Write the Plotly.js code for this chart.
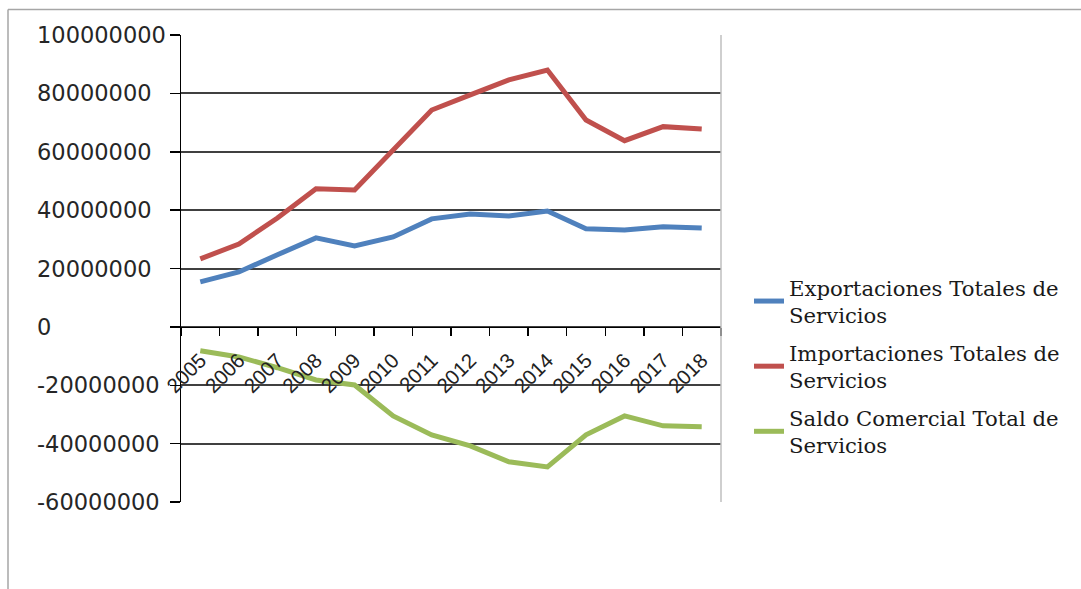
<!DOCTYPE html>
<html>
<head>
<meta charset="utf-8">
<script src="https://cdn.plot.ly/plotly-3.0.1.min.js"></script>
<style>
html,body{margin:0;padding:0;background:#fff;}
#chart{width:1081px;height:589px;}
</style>
</head>
<body>
<div id="chart"></div>
<script>
const years = ["2005","2006","2007","2008","2009","2010","2011","2012","2013","2014","2015","2016","2017","2018"];
const exportaciones = [15400000,18800000,24700000,30500000,27700000,30800000,37000000,38700000,38000000,39700000,33600000,33200000,34300000,33900000];
const importaciones = [23300000,28400000,37300000,47300000,46900000,60600000,74300000,79500000,84600000,88000000,70900000,63800000,68600000,67800000];
const saldo = [-8200000,-10300000,-14000000,-18200000,-19900000,-30500000,-37000000,-40800000,-46200000,-48000000,-37000000,-30500000,-33900000,-34200000];
const yTicks = [100000000,80000000,60000000,40000000,20000000,0,-20000000,-40000000,-60000000];
const names = ["Exportaciones Totales de<br>Servicios","Importaciones Totales de<br>Servicios","Saldo Comercial Total de<br>Servicios"];
const colors = ["#4F81BD","#C0504D","#9BBB59"];

const W = 1081, H = 589;
const L = 181, R = 721, T = 35, B = 502;
const pw = R - L, ph = B - T;
const px = v => (v - L) / pw;
const py = v => (B - v) / ph;

const traces = [exportaciones, importaciones, saldo].map((d, i) => ({
  type: "scatter", mode: "lines", x: years, y: d, name: names[i], legendgroup: "g" + i,
  line: {color: colors[i], width: 5, shape: "linear"}
}));

const annotations = yTicks.map(v => ({
  xref: "paper", yref: "y", x: px(35), y: v, xanchor: "left", yanchor: "middle",
  text: String(v), showarrow: false,
  font: {family: "DejaVu Sans", size: 22.5, color: "#262626"}
}));

const layout = {
  width: W, height: H,
  margin: {l: L, r: W - R, t: T, b: H - B, pad: 0},
  paper_bgcolor: "#fff", plot_bgcolor: "#fff",
  showlegend: true,
  xaxis: {
    type: "category", range: [-0.5, 13.5], anchor: "free", position: 0.375,
    showline: true, linecolor: "#000", linewidth: 1.5,
    ticks: "outside", tickson: "boundaries", ticklen: 8, tickwidth: 1.5, tickcolor: "#000",
    tickangle: -45, showgrid: false, zeroline: false, ticklabelstandoff: 12,
    tickfont: {family: "Liberation Sans", size: 20.5, color: "#222"}
  },
  yaxis: {
    range: [-60000000, 100000000], tickvals: yTicks, showticklabels: false,
    showline: true, linecolor: "#000", linewidth: 1.5,
    ticks: "outside", ticklen: 10, tickwidth: 1.5, tickcolor: "#000",
    showgrid: true, gridcolor: "#404040", gridwidth: 2, zeroline: false
  },
  legend: {
    x: px(749), y: py(267), xanchor: "left", yanchor: "top",
    font: {family: "DejaVu Serif", size: 21.2, color: "#1a1a1a"},
    bgcolor: "rgba(0,0,0,0)", borderwidth: 0, itemwidth: 30, tracegroupgap: 7
  },
  annotations: annotations,
  shapes: [
    {type: "line", xref: "paper", yref: "paper", x0: 1, x1: 1, y0: 0, y1: 1, line: {color: "#bfbfbf", width: 1.5}},
    {type: "line", xref: "paper", yref: "paper", x0: px(8), x1: px(1081), y0: py(9.5), y1: py(9.5), line: {color: "#a6a6a6", width: 1.5}},
    {type: "line", xref: "paper", yref: "paper", x0: px(8), x1: px(8), y0: py(9.5), y1: py(589), line: {color: "#a6a6a6", width: 1.5}}
  ]
};

Plotly.newPlot("chart", traces, layout, {displayModeBar: false, staticPlot: true});
</script>
</body>
</html>
